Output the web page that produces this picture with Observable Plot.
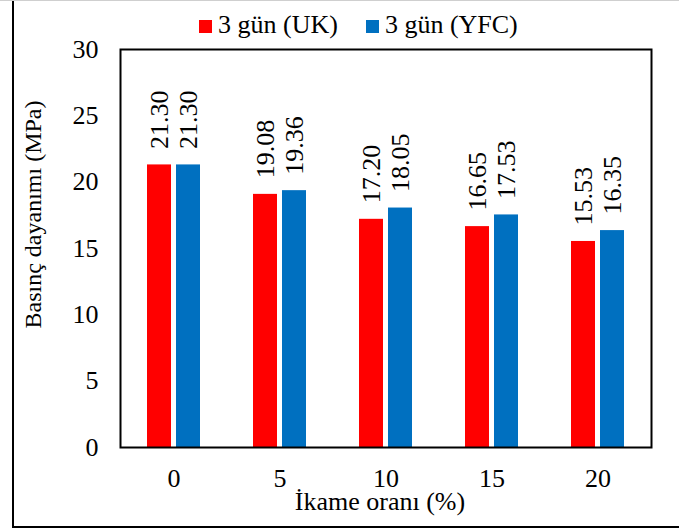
<!DOCTYPE html>
<html>
<head>
<meta charset="utf-8">
<script src="https://cdn.jsdelivr.net/npm/d3@7"></script>
<script src="https://cdn.jsdelivr.net/npm/@observablehq/plot@0.6"></script>
<style>
  html, body { margin: 0; padding: 0; background: #fff; }
  #outer { width: 679px; height: 529px; border-top: 1px solid #cfcfcf; box-sizing: border-box; position: relative; }
  #frame { position: absolute; left: 12px; top: 0; width: 667px; height: 527px; border-left: 2px solid #000; border-bottom: 2px solid #000; box-sizing: border-box; }
  #legend { position: relative; height: 40px; font-family: 'Liberation Serif', 'Times New Roman', serif; font-size: 26px; color: #000; }
  #legend .items { position: absolute; left: 185px; top: 11px; line-height: 1; white-space: nowrap; }
  #legend .sw { display: inline-block; width: 13px; height: 13px; margin-right: 6px; vertical-align: baseline; }
  #legend .item { margin-right: 28px; }
  svg { display: block; overflow: visible; }
  svg text { font-family: 'Liberation Serif', 'Times New Roman', serif; }
</style>
</head>
<body>
<div id="outer"><div id="frame"><div id="legend"></div><div id="chart"></div></div></div>
<script>
const categories = ["0", "5", "10", "15", "20"];
const seriesNames = ["3 gün (UK)", "3 gün (YFC)"];
const ukValues = [21.30, 19.08, 17.20, 16.65, 15.53];
const yfcValues = [21.30, 19.36, 18.05, 17.53, 16.35];
const yTicks = [0, 5, 10, 15, 20, 25, 30];
const colors = ["#FF0000", "#0070C0"];
const xTitle = "İkame oranı (%)";
const yTitle = "Basınç dayanımı (MPa)";

const ukRows = categories.map((c, i) => ({cat: c, value: ukValues[i]}));
const yfcRows = categories.map((c, i) => ({cat: c, value: yfcValues[i]}));

// legend
const items = document.createElement("div");
items.className = "items";
seriesNames.forEach((name, i) => {
  const it = document.createElement("span");
  it.className = "item";
  const sw = document.createElement("span");
  sw.className = "sw";
  sw.style.background = colors[i];
  it.appendChild(sw);
  it.appendChild(document.createTextNode(name));
  items.appendChild(it);
});
document.getElementById("legend").appendChild(items);

const serif = "'Liberation Serif', 'Times New Roman', serif";

const chart = Plot.plot({
  width: 665,
  height: 485,
  marginTop: 8,
  marginBottom: 79,
  marginLeft: 106,
  marginRight: 28,
  style: {fontFamily: serif, fontSize: "26px", color: "#000", background: "transparent", overflow: "visible"},
  x: {domain: categories, paddingInner: 0.5, paddingOuter: 0.25},
  y: {domain: [0, 30]},
  marks: [
    Plot.barY(ukRows, {x: "cat", y: "value", fill: colors[0], insetRight: 29}),
    Plot.barY(yfcRows, {x: "cat", y: "value", fill: colors[1], insetLeft: 29}),
    Plot.text(ukRows, {x: "cat", y: "value", text: d => d.value.toFixed(2), rotate: -90, textAnchor: "start", dx: -14.5, dy: -16, fill: "#000", fontFamily: serif}),
    Plot.text(yfcRows, {x: "cat", y: "value", text: d => d.value.toFixed(2), rotate: -90, textAnchor: "start", dx: 14.5, dy: -16, fill: "#000", fontFamily: serif}),
    Plot.frame({stroke: "#000", strokeWidth: 2}),
    Plot.axisY({ticks: yTicks, tickSize: 0, tickPadding: 22, label: null, fontFamily: serif, fontVariant: "normal"}),
    Plot.axisX({tickSize: 0, tickPadding: 21, label: null, fontFamily: serif}),
    Plot.text([yTitle], {frameAnchor: "left", rotate: -90, textAnchor: "middle", lineAnchor: "middle", dx: -87, dy: -34, fill: "#000", fontSize: 24, fontFamily: serif}),
    Plot.text([xTitle], {frameAnchor: "bottom", textAnchor: "middle", lineAnchor: "middle", dy: 54, dx: -6, fill: "#000", fontFamily: serif})
  ]
});
document.getElementById("chart").appendChild(chart);
</script>
</body>
</html>
